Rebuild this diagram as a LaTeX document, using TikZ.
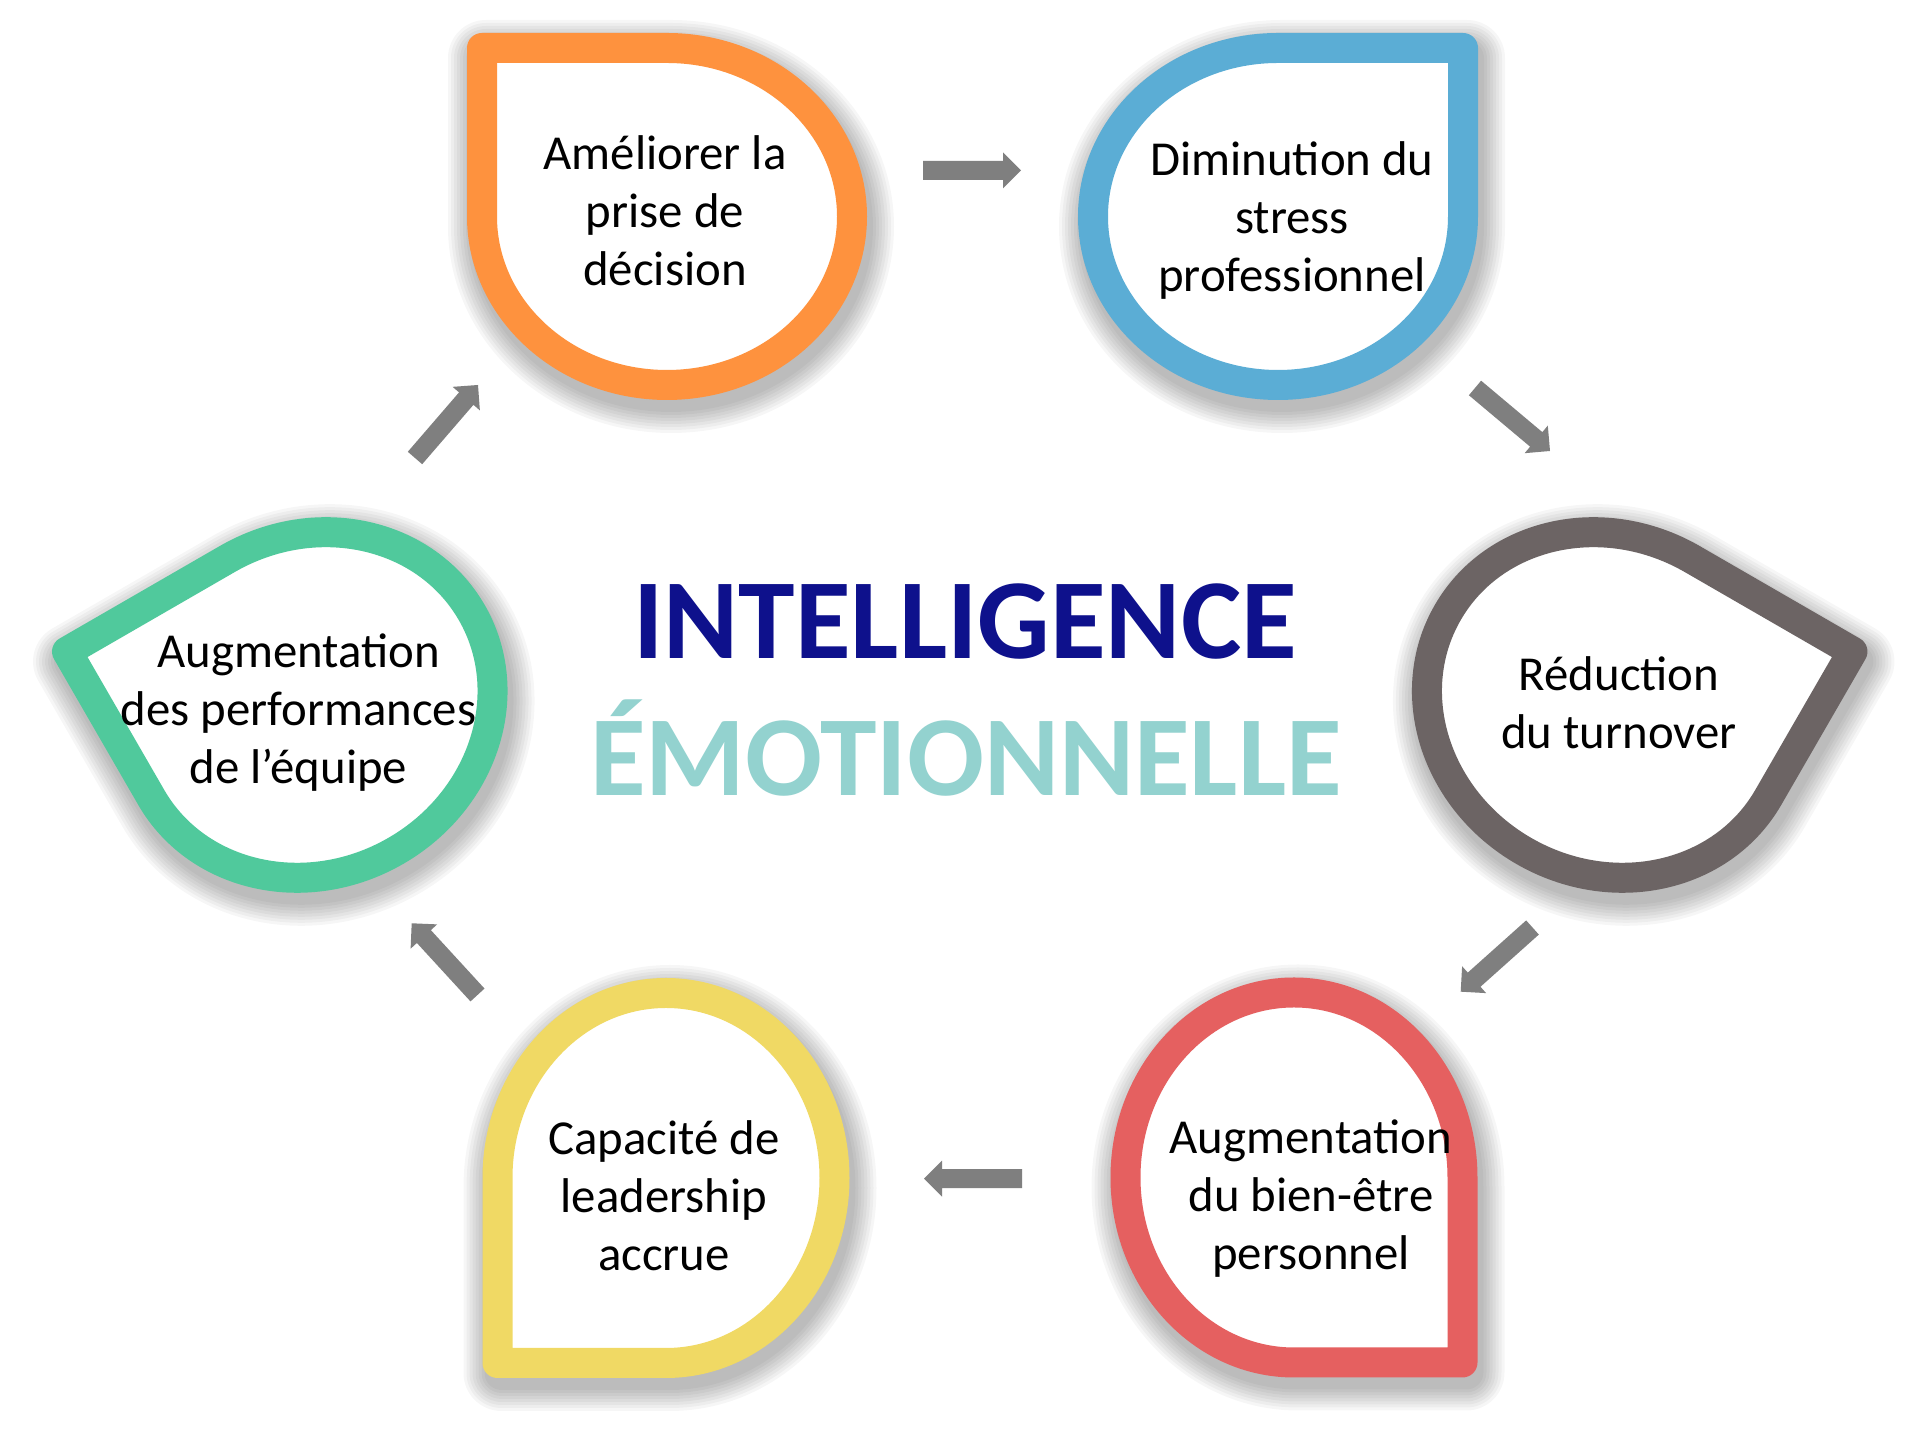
\documentclass[tikz,border=0pt]{standalone}
\usepackage{fontspec}
\setmainfont{Carlito}
\usetikzlibrary{calc}
\definecolor{cOrange}{RGB}{254,146,62}
\definecolor{cBlue}{RGB}{91,173,213}
\definecolor{cGray}{RGB}{108,100,100}
\definecolor{cGreen}{RGB}{80,201,156}
\definecolor{cYellow}{RGB}{240,217,100}
\definecolor{cRed}{RGB}{229,96,96}
\definecolor{cArrow}{RGB}{127,127,127}
\definecolor{cNavy}{RGB}{14,17,140}
\definecolor{cTeal}{RGB}{147,210,207}
\tikzset{
  lbl/.style={align=center, text=black, font=\fontsize{24.4}{29}\selectfont, inner sep=0pt},
  ttl/.style={font=\fontsize{57}{68}\selectfont\bfseries, inner sep=0pt, anchor=base},
  arrowfill/.style={fill=cArrow, draw=none},
  tdline/.style={line width=15pt, line join=round, fill=white},
  tdshadow/.style={draw=black, draw opacity=0.035, line join=round},
}
\def\tdpath{(-185,0) arc[start angle=180,end angle=360,x radius=185,y radius=168.5] -- (185,168.5) -- (0,168.5) arc[start angle=90,end angle=180,x radius=185,y radius=168.5] -- cycle}
\newcommand\tdshape[3]{%
  \begin{scope}[shift={#1}, shift={(4,-10)}, #2]
    \foreach \w in {17,20,...,38} \draw[tdshadow, line width=\w pt] \tdpath;
  \end{scope}
  \begin{scope}[shift={#1}, #2]
    \draw[tdline, draw=#3] \tdpath;
  \end{scope}}
\newcommand\blockarrow[3]{%
  \coordinate (#3b) at ($(#2)!9pt!(#1)$);
  \fill[arrowfill] ($(#1)!4.75pt!90:(#2)$) -- ($(#3b)!4.75pt!90:(#2)$) -- ($(#3b)!9pt!90:(#2)$) -- (#2) -- ($(#3b)!9pt!-90:(#2)$) -- ($(#3b)!4.75pt!-90:(#2)$) -- ($(#1)!4.75pt!-90:(#2)$) -- cycle;}
\begin{document}
\begin{tikzpicture}[x=0.5pt,y=0.5pt]
\fill[white] (0,0) rectangle (1919,1445);
\useasboundingbox (0,0) rectangle (1919,1445);

% teardrop shapes
\tdshape{(667,1228.5)}{xscale=-1}{cOrange}
\tdshape{(1278,1228.5)}{}{cBlue}
\tdshape{(1608,740)}{rotate=-30}{cGray}
\tdshape{(1294,267.5)}{rotate=-90}{cRed}
\tdshape{(666,267)}{xscale=-1, rotate=-90}{cYellow}
\tdshape{(311.5,740)}{xscale=-1, rotate=-30}{cGreen}

% labels
\node[lbl] (t1) at (665,1234) {Améliorer la\\prise de\\décision};
\node[lbl] (t2) at (1292,1224) {Diminution du\\stress\\professionnel};
\node[lbl] (t3) at (1619,742) {Réduction\\du turnover};
\node[lbl] (t4) at (1311,246) {Augmentation\\du bien-être\\personnel};
\node[lbl] (t5) at (664,249) {Capacité de\\leadership\\accrue};
\node[lbl] (t6) at (298.5,732) {Augmentation\\des performances\\de l’équipe};

% title
\node[ttl, text=cNavy] (title1) at (965,786.5) {INTELLIGENCE};
\node[ttl, text=cTeal] (title2) at (966,649.5) {ÉMOTIONNELLE};

% arrows
\coordinate (a1s) at (923,1274.5);  \coordinate (a1e) at (1021,1274.5);
\coordinate (a2s) at (1475,1057);   \coordinate (a2e) at (1550,994);
\coordinate (a3s) at (1532.5,517.5); \coordinate (a3e) at (1460.7,453.3);
\coordinate (a4s) at (1022,266.4);  \coordinate (a4e) at (924,266.4);
\coordinate (a5s) at (477.5,450);   \coordinate (a5e) at (411.7,521.7);
\coordinate (a6s) at (415,987);     \coordinate (a6e) at (478,1060);
\blockarrow{a1s}{a1e}{a1}
\blockarrow{a2s}{a2e}{a2}
\blockarrow{a3s}{a3e}{a3}
\blockarrow{a4s}{a4e}{a4}
\blockarrow{a5s}{a5e}{a5}
\blockarrow{a6s}{a6e}{a6}
\end{tikzpicture}
\end{document}
